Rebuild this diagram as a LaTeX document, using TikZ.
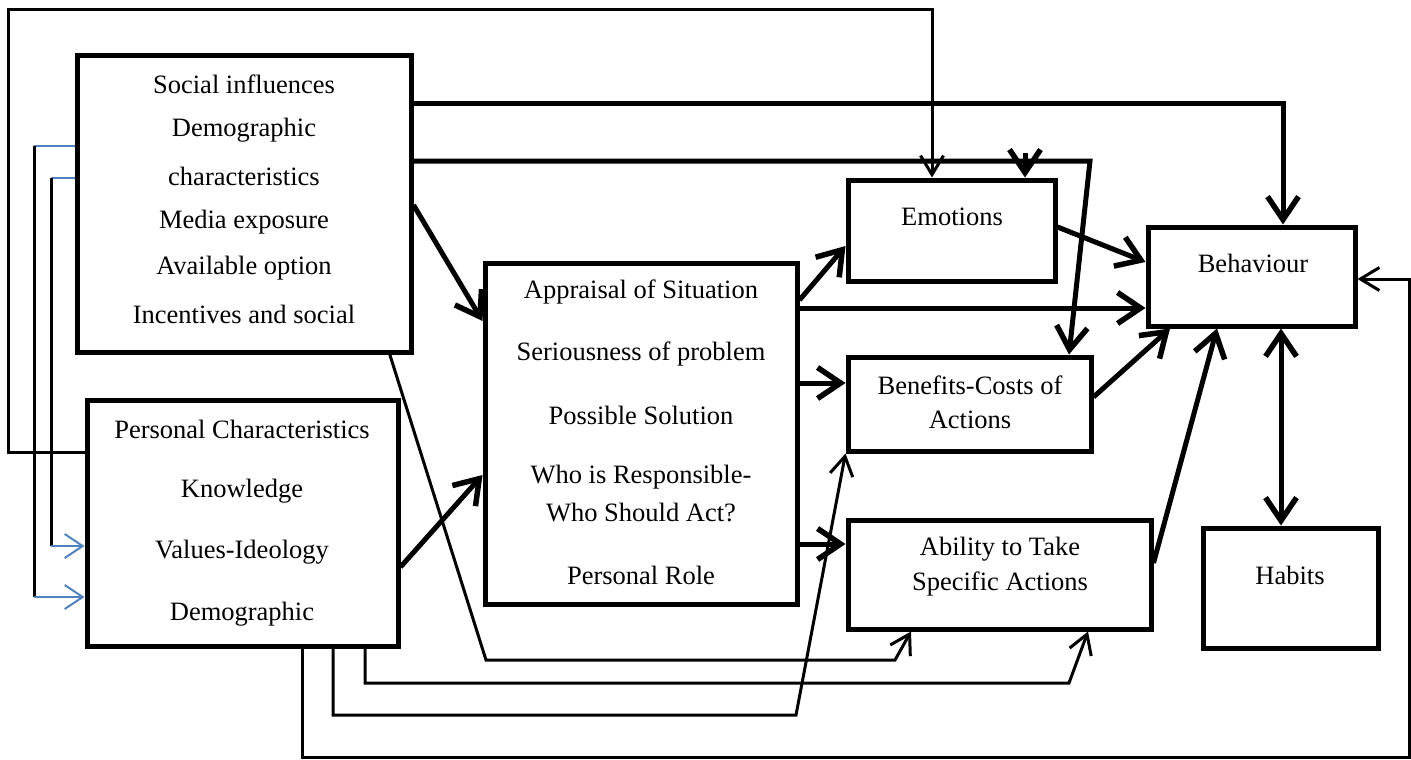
\documentclass[tikz,border=0pt]{standalone}
\usepackage{fontspec}
\setmainfont{Liberation Serif}
\usetikzlibrary{arrows.meta}
\definecolor{linkblue}{RGB}{79,129,189}
\tikzset{
  box/.style={draw, line width=5pt, inner sep=0pt},
  lbl/.style={inner sep=0pt, font=\fontsize{26.5}{30}\selectfont},
  bigbarb/.tip={Straight Barb[length=23pt,width=31pt,line width=5.5pt]},
  smallbarb/.tip={Straight Barb[length=19pt,width=23pt]},
  heavy/.style={line width=5pt, -bigbarb},
  heavyboth/.style={line width=5pt, bigbarb-bigbarb},
  light/.style={line width=3pt, -smallbarb},
  lightline/.style={line width=3pt},
  bluearrow/.style={line width=1.5pt, draw=linkblue, -{Straight Barb[length=18pt,width=24pt,line width=2pt]}},
  blueline/.style={line width=1.5pt, draw=linkblue},
}
\begin{document}
\begin{tikzpicture}[x=1pt,y=-1pt]
\useasboundingbox (0,0) rectangle (1411,760);

% boxes
\node[box, minimum width=334pt, minimum height=296pt] (SI) at (244,204) {};
\node[box, minimum width=311pt, minimum height=246pt] (PC) at (242.5,523) {};
\node[box, minimum width=312pt, minimum height=341pt] (AP) at (641,433.5) {};
\node[box, minimum width=207pt, minimum height=101pt] (EM) at (951.5,230.5) {};
\node[box, minimum width=207pt, minimum height=99pt] (BH) at (1251.5,276.5) {};
\node[box, minimum width=243pt, minimum height=94pt] (BC) at (969.5,404) {};
\node[box, minimum width=303pt, minimum height=109pt] (AB) at (999.5,574.5) {};
\node[box, minimum width=175pt, minimum height=120pt] (HB) at (1290.5,588) {};

% box texts
\node[lbl] (si1) at (244,84) {Social influences};
\node[lbl] (si2) at (244,130) {Demographic};
\node[lbl] (si3) at (244,176) {characteristics};
\node[lbl] (si4) at (244,222) {Media exposure};
\node[lbl] (si5) at (244,268) {Available option};
\node[lbl] (si6) at (244,314) {Incentives and social};

\node[lbl] (pc1) at (242,429) {Personal Characteristics};
\node[lbl] (pc2) at (242,491) {Knowledge};
\node[lbl] (pc3) at (242,552) {Values-Ideology};
\node[lbl] (pc4) at (242,614) {Demographic};

\node[lbl] (ap1) at (641,292) {Appraisal of Situation};
\node[lbl] (ap2) at (641,354) {Seriousness of problem};
\node[lbl] (ap3) at (641,415) {Possible Solution};
\node[lbl] (ap4) at (641,477) {Who is Responsible-};
\node[lbl] (ap5) at (641,513) {Who Should Act?};
\node[lbl] (ap6) at (641,575) {Personal Role};

\node[lbl] (em1) at (952,217) {Emotions};
\node[lbl] (bh1) at (1253,263) {Behaviour};
\node[lbl] (bc1) at (970,385) {Benefits-Costs of};
\node[lbl] (bc2) at (970,420) {Actions};
\node[lbl] (ab1) at (1000,549) {Ability to Take};
\node[lbl] (ab2) at (1000,584) {Specific Actions};
\node[lbl] (hb1) at (1290,575) {Habits};

% social influences to the right
\draw[heavy] (SI.east |- 0,103) -- (1283,103) -- (1283,103 |- BH.north);
\draw[heavy] (SI.east |- 0,161) -- (1090,161) -- (1069,161 |- BC.north);
\draw[heavy] (1025,153) -- (1025,153 |- EM.north);
\draw[heavy] (SI.east |- 0,205) -- (AP.west |- 0,321);
\draw[light] (389,352) -- (486,660) -- (895,660) -- (911,660 |- AB.south);

% outer loop from personal characteristics to emotions
\draw[light] (PC.west |- 0,452) -- (8,452) -- (8,10) -- (932,10) -- (932,10 |- EM.north);

% side links between the two left boxes
\draw[blueline] (SI.west |- 0,146) -- (34,146);
\draw[lightline] (34,146) -- (34,597);
\draw[bluearrow] (34,597) -- (PC.west |- 0,597);
\draw[blueline] (SI.west |- 0,178) -- (51,178);
\draw[lightline] (51,178) -- (51,546);
\draw[bluearrow] (51,546) -- (PC.west |- 0,546);

% personal characteristics outputs
\draw[heavy] (PC.east |- 0,567) -- (AP.west |- 0,475);
\draw[light] (365,0 |- PC.south) -- (365,683) -- (1069,683) -- (1088,683 |- AB.south);
\draw[light] (333,0 |- PC.south) -- (333,715) -- (796,715) -- (BC.south west);
\draw[light] (302,0 |- PC.south) -- (302,757) -- (1409,757) -- (1409,279) -- (BH.east |- 0,279);

% appraisal outputs
\draw[heavy] (AP.east |- 0,300) -- (EM.west |- 0,246);
\draw[heavy] (AP.east |- 0,308) -- (BH.west |- 0,308);
\draw[heavy] (AP.east |- 0,383) -- (BC.west |- 0,383);
\draw[heavy] (AP.east |- 0,544) -- (AB.west |- 0,544);

% into behaviour
\draw[heavy] (EM.east |- 0,227) -- (BH.west |- 0,262);
\draw[heavy] (BC.east |- 0,397) -- (1170,0 |- BH.south);
\draw[heavy] (AB.east |- 0,563) -- (1217,0 |- BH.south);
\draw[heavyboth] (1281,0 |- BH.south) -- (1281,0 |- HB.north);
\end{tikzpicture}
\end{document}
